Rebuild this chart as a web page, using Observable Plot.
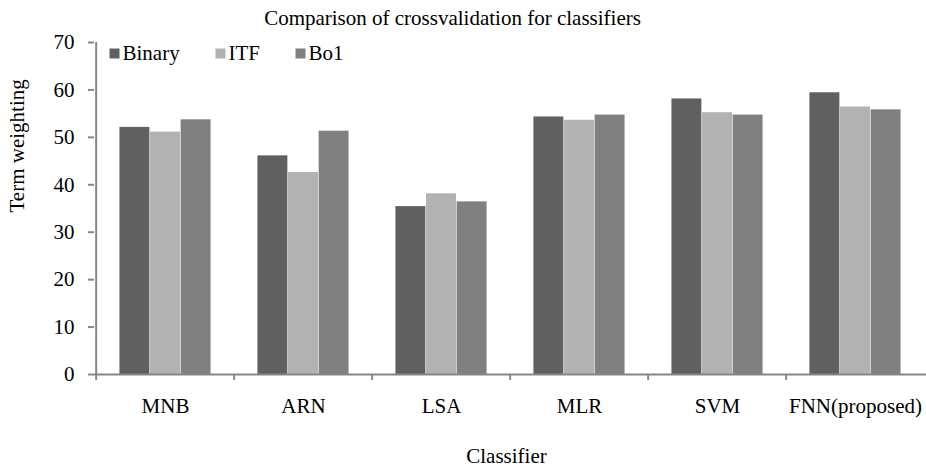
<!DOCTYPE html>
<html>
<head>
<meta charset="utf-8">
<script src="https://cdn.jsdelivr.net/npm/d3@7"></script>
<script src="https://cdn.jsdelivr.net/npm/@observablehq/plot@0.6"></script>
<style>
  html, body { margin: 0; padding: 0; background: #fff; }
  #chart svg { display: block; }
</style>
</head>
<body>
<div id="chart"></div>
<script>
const classifiers = ["MNB", "ARN", "LSA", "MLR", "SVM", "FNN(proposed)"];
const seriesNames = ["Binary", "ITF", "Bo1"];
const binary = [52.1, 46.1, 35.4, 54.3, 58.1, 59.4];
const itf    = [51.1, 42.6, 38.1, 53.6, 55.2, 56.4];
const bo1    = [53.7, 51.3, 36.4, 54.7, 54.7, 55.8];
const yTicks = [0, 10, 20, 30, 40, 50, 60, 70];
const title = "Comparison of crossvalidation for classifiers";
const xLabel = "Classifier";
const yLabel = "Term weighting";

const seriesValues = [binary, itf, bo1];
const colors = ["#606060", "#b2b2b2", "#808080"];

const data = [];
seriesNames.forEach((s, si) => classifiers.forEach((c, ci) => data.push({classifier: c, series: s, value: seriesValues[si][ci]})));

const W = 926, H = 470;
const mL = 94, mR = 0, mT = 42, mB = 96;
const step = (W - mL - mR) / classifiers.length;
const barW = 30.6;
const groupOff = (step - barW * 3) / 2;
const plotH = H - mT - mB;
const axisColor = "#868686";
const font = "Liberation Serif, Times New Roman, serif";
const fs = 21;

const barMarks = seriesNames.map((s, i) => Plot.barY(data.filter(d => d.series === s), {
  x: "classifier", y: "value", fill: colors[i],
  insetLeft: groupOff + i * barW,
  insetRight: step - groupOff - (i + 1) * barW
}));

const legendX = [114, 220, 300];
const legendMarks = seriesNames.flatMap((s, i) => [
  Plot.dot([s], {frameAnchor: "top-left", dx: legendX[i] - mL, dy: 11, symbol: "square", r: 5.64, fill: colors[i], stroke: null}),
  Plot.text([s], {text: d => d, frameAnchor: "top-left", lineAnchor: "middle", dx: legendX[i] - mL + 8, dy: 11, textAnchor: "start", fontSize: fs, fill: "#000"})
]);

const chart = Plot.plot({
  width: W, height: H,
  marginLeft: mL, marginRight: mR, marginTop: mT, marginBottom: mB,
  style: {fontFamily: font, fontSize: fs + "px", color: "#000", background: "#fff", overflow: "visible"},
  x: {domain: classifiers, padding: 0, label: null},
  y: {domain: [0, 70], label: null},
  marks: [
    ...barMarks,
    Plot.ruleY([0], {stroke: axisColor, strokeWidth: 2}),
    Plot.ruleX([classifiers[0]], {x: d => d, dx: -step / 2, stroke: axisColor, strokeWidth: 2}),
    Plot.ruleX(classifiers, {x: d => d, dx: -step / 2, stroke: axisColor, strokeWidth: 2, insetTop: plotH, insetBottom: -6}),
    Plot.axisY({ticks: yTicks, tickSize: 6, tickPadding: 14, stroke: axisColor, strokeWidth: 2, fill: "#000", fontSize: fs, label: null, tickFormat: d => String(d)}),
    Plot.axisX({tickSize: 0, tickPadding: 24, fill: "#000", fontSize: fs, label: null}),
    ...legendMarks,
    Plot.text([title], {text: d => d, frameAnchor: "top", lineAnchor: "middle", dx: -58, dy: -24, fontSize: fs, fill: "#000"}),
    Plot.text([xLabel], {text: d => d, frameAnchor: "bottom", lineAnchor: "middle", dx: -4, dy: 82, fontSize: fs, fill: "#000"}),
    Plot.text([yLabel], {text: d => d, frameAnchor: "left", lineAnchor: "middle", dx: -77, dy: 4, rotate: -90, fontSize: fs, fill: "#000"})
  ]
});
document.getElementById("chart").appendChild(chart);
</script>
</body>
</html>
